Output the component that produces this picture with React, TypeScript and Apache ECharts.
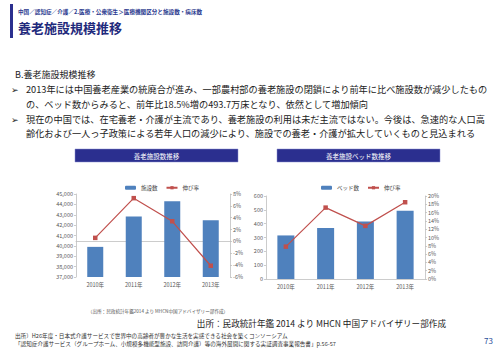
import React, { useEffect, useRef } from "react";
import * as echarts from "echarts";

const years = ["2010年", "2011年", "2012年", "2013年"];
const facilities = [39904, 42828, 44304, 42475];
const facilityGrowth = [0.6, 7.3, 3.4, -4.1];
const beds = [314.9, 369.2, 416.5, 493.7];
const bedGrowth = [7.8, 17.2, 12.8, 18.5];

const breadcrumb = "中国／認知症／介護／2.医療・公衆衛生＞医療機関区分と施設数・病床数";
const pageTitle = "養老施設規模推移";
const sectionTitle = "B.養老施設規模推移";
const bodyLines = [
  "2013年には中国養老産業の統廃合が進み、一部農村部の養老施設の閉鎖により前年に比べ施設数が減少したもの",
  "の、ベッド数からみると、前年比18.5%増の493.7万床となり、依然として増加傾向",
  "現在の中国では、在宅養老・介護が主流であり、養老施設の利用は未だ主流ではない。今後は、急速的な人口高",
  "齢化および一人っ子政策による若年人口の減少により、施設での養老・介護が拡大していくものと見込まれる",
];
const chartTitles = ["養老施設数推移", "養老施設ベッド数推移"];
const legendNames = ["施設数", "伸び率", "ベッド数", "伸び率 "];
const smallSource = "（出所：民政統計年鑑2014 より MHCN中国アドバイザリー部作成）";
const source = "出所：民政統計年鑑 2014 より MHCN 中国アドバイザリー部作成";
const footer1 = "出所）H26年度・日本式介護サービスで世界中の高齢者が豊かな生活を実感できる社会を築くコンソーシアム";
const footer2 = "「認知症介護サービス（グループホーム、小規模多機能型施設、訪問介護）等の海外展開に関する実証調査事業報告書」p.56-57";
const pageNo = "73";

const JP = '"Noto Sans CJK JP", "Noto Sans", sans-serif';
const NAVY = "#2b2f8f";
const BAR = "#4f81bd";
const LINE = "#c0504d";

export default function App() {
  const ref = useRef<HTMLDivElement>(null);
  useEffect(() => {
    if (!ref.current) return;
    const chart = echarts.init(ref.current, null, { renderer: "svg" });
    const txt = (text: string, x: number, y: number, size: number, fill: string, extra: any = {}) => ({
      type: "text",
      x,
      y,
      style: { text, fontSize: size, fontFamily: JP, fill, verticalAlign: "middle", ...extra },
    });
    const axisLabel = { fontSize: 5.5, color: "#595959", fontFamily: JP, margin: 3 };
    const axisLine = { show: true, lineStyle: { color: "#bfbfbf", width: 0.8 } };
    const axisTick = { show: true, length: 2, lineStyle: { color: "#bfbfbf", width: 0.8 } };
    const yBase = (gridIndex: number, min: number, max: number, interval: number, fmt: (v: number) => string, position: string) => ({
      type: "value",
      gridIndex,
      min,
      max,
      interval,
      position,
      axisLabel: { ...axisLabel, formatter: fmt },
      axisLine,
      axisTick,
      splitLine: { show: false },
    });
    const graphics: any[] = [
      { type: "rect", shape: { x: 10, y: 4, width: 3, height: 34 }, style: { fill: NAVY } },
      txt(breadcrumb, 18, 11.5, 5.6, "#2b3a8f", { fontWeight: "bold" }),
      txt(pageTitle, 18, 27, 13, "#1f2a7c", { fontWeight: "bold" }),
      txt(sectionTitle, 15, 74, 9, "#222"),
      txt("➢", 11, 89, 9, "#222"),
      txt(bodyLines[0], 26, 89, 9.2, "#222"),
      txt(bodyLines[1], 26, 104, 9.2, "#222"),
      txt("➢", 11, 119, 9, "#222"),
      txt(bodyLines[2], 26, 119, 9.2, "#222"),
      txt(bodyLines[3], 26, 133, 9.2, "#222"),
      { type: "rect", shape: { x: 75, y: 149, width: 163, height: 13 }, style: { fill: NAVY, stroke: "#8a8fd0", lineWidth: 0.5 } },
      txt(chartTitles[0], 156.5, 155.5, 6.5, "#fff", { align: "center" }),
      { type: "rect", shape: { x: 277, y: 149, width: 163, height: 13 }, style: { fill: NAVY, stroke: "#8a8fd0", lineWidth: 0.5 } },
      txt(chartTitles[1], 358.5, 155.5, 6.5, "#fff", { align: "center" }),
      txt(smallSource, 158, 311, 4.6, "#555", { align: "center" }),
      txt(source, 446, 323, 8.6, "#222", { align: "right" }),
      txt(footer1, 15, 335.5, 5.6, "#333"),
      txt(footer2, 15, 344, 5.6, "#333"),
      txt(pageNo, 493, 340.5, 8, "#1f4e9a", { align: "right" }),
    ];
    chart.setOption({
      animation: false,
      backgroundColor: "#ffffff",
      textStyle: { fontFamily: JP },
      grid: [
        { left: 76, top: 194, width: 154, height: 83 },
        { left: 266, top: 196, width: 159, height: 83 },
      ],
      legend: [
        {
          data: [legendNames[0], legendNames[1]],
          left: 120,
          top: 180,
          itemWidth: 11,
          itemHeight: 4,
          itemGap: 8,
          textStyle: { fontSize: 5.5, color: "#404040", fontFamily: JP },
        },
        {
          data: [legendNames[2], legendNames[3]],
          left: 316,
          top: 180,
          itemWidth: 11,
          itemHeight: 4,
          itemGap: 8,
          textStyle: { fontSize: 5.5, color: "#404040", fontFamily: JP },
        },
      ],
      xAxis: [0, 1].map((g) => ({
        type: "category",
        gridIndex: g,
        data: years,
        axisLabel: { ...axisLabel, margin: 5 },
        axisLine,
        axisTick: { show: false },
      })),
      yAxis: [
        yBase(0, 37000, 45000, 1000, (v) => v.toLocaleString("en-US"), "left"),
        yBase(0, -6, 8, 2, (v) => v + "%", "right"),
        yBase(1, 0, 600, 100, (v) => String(v), "left"),
        yBase(1, 0, 20, 2, (v) => v + "%", "right"),
      ],
      series: [
        { name: legendNames[0], type: "bar", xAxisIndex: 0, yAxisIndex: 0, data: facilities, barWidth: 16, itemStyle: { color: BAR } },
        {
          name: legendNames[1], type: "line", xAxisIndex: 0, yAxisIndex: 1, data: facilityGrowth,
          symbol: "rect", symbolSize: 4.5, lineStyle: { color: LINE, width: 1.2 }, itemStyle: { color: LINE },
        },
        { name: legendNames[2], type: "bar", xAxisIndex: 1, yAxisIndex: 2, data: beds, barWidth: 17, itemStyle: { color: BAR } },
        {
          name: legendNames[3], type: "line", xAxisIndex: 1, yAxisIndex: 3, data: bedGrowth,
          symbol: "rect", symbolSize: 4.5, lineStyle: { color: LINE, width: 1.2 }, itemStyle: { color: LINE },
        },
      ],
      graphic: graphics,
    });
    return () => chart.dispose();
  }, []);
  return <div ref={ref} style={{ position: "fixed", left: 0, top: 0, width: 500, height: 353 }} />;
}
